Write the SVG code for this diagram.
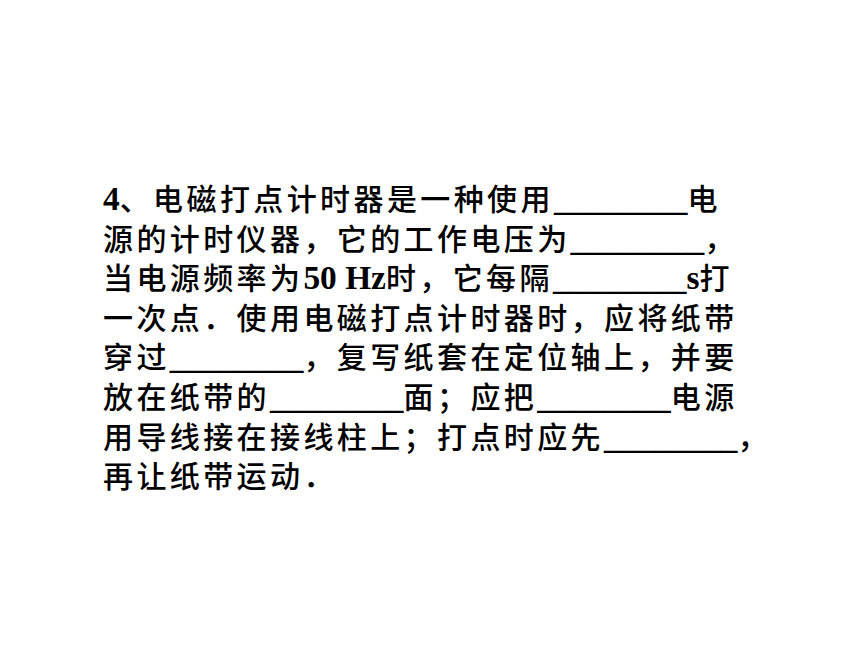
<svg xmlns="http://www.w3.org/2000/svg" width="860" height="645" viewBox="0 0 860 645">
<style>
text{fill:#000}
.c{font-family:"Noto Sans CJK SC","Noto Sans CJK JP",sans-serif;font-size:30px;font-weight:500;letter-spacing:3.4px}
.l{font-family:"Liberation Serif","Times New Roman",serif;font-size:33.4px;font-weight:bold;letter-spacing:0}
</style>
<rect width="860" height="645" fill="#fff"/>
<g id="question">
<text y="210"><tspan class="l" x="103">4</tspan><tspan class="c" x="119.7">、电磁打点计时器是一种使用</tspan><tspan class="l" x="553.9">________</tspan><tspan class="c" x="687.5">电</tspan></text>
<text y="249.6"><tspan class="c" x="103">源的计时仪器，它的工作电压为</tspan><tspan class="l" x="570.6">________</tspan><tspan class="c" x="704.2">，</tspan></text>
<text y="289.2"><tspan class="c" x="103">当电源频率为</tspan><tspan class="l" x="303.4">50 Hz</tspan><tspan class="c" x="385.9">时，它每隔</tspan><tspan class="l" x="552.9">________</tspan><tspan class="l" x="686.5">s</tspan><tspan class="c" x="699.5">打</tspan></text>
<text y="328.8"><tspan class="c" x="103">一次点．使用电磁打点计时器时，应将纸带</tspan></text>
<text y="368.4"><tspan class="c" x="103">穿过</tspan><tspan class="l" x="169.8">________</tspan><tspan class="c" x="303.4">，复写纸套在定位轴上，并要</tspan></text>
<text y="408"><tspan class="c" x="103">放在纸带的</tspan><tspan class="l" x="270">________</tspan><tspan class="c" x="403.6">面；应把</tspan><tspan class="l" x="537.2">________</tspan><tspan class="c" x="670.8">电源</tspan></text>
<text y="447.6"><tspan class="c" x="103">用导线接在接线柱上；打点时应先</tspan><tspan class="l" x="604">________</tspan><tspan class="c" x="737.6">，</tspan></text>
<text y="487.2"><tspan class="c" x="103">再让纸带运动．</tspan></text>
</g>
</svg>
